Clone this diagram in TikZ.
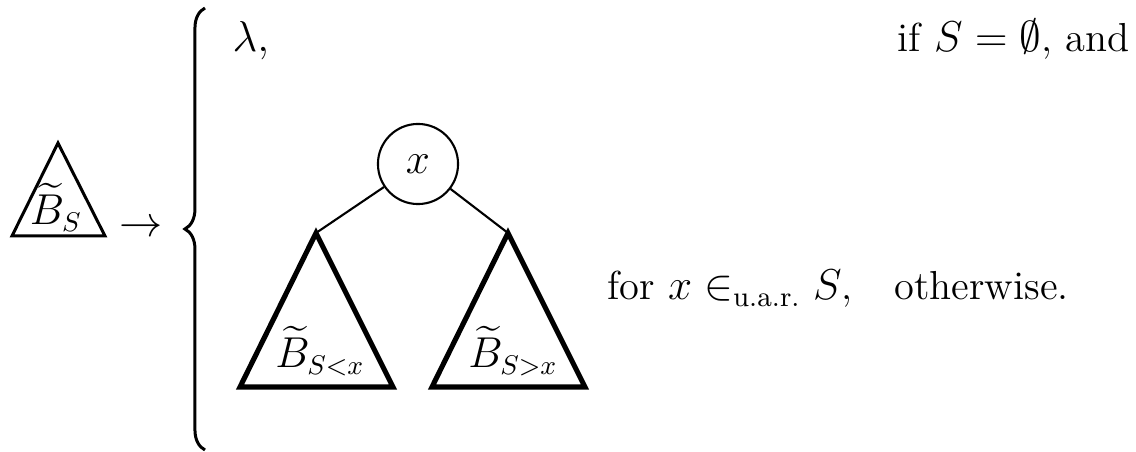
\documentclass[tikz,border=0pt]{standalone}
\usepackage{amsmath}
\usetikzlibrary{decorations.pathreplacing}
\begin{document}
\begin{tikzpicture}[x=0.33333pt,y=-0.33333pt,
  txt/.style={font=\fontsize{13.5}{16}\selectfont, inner sep=0pt},
  smalltri/.style={line width=1pt, line join=miter},
  subtri/.style={line width=1.7pt, line join=miter},
  edge/.style={line width=0.7pt},
  root/.style={circle, draw, line width=0.7pt, minimum size=26.7pt, inner sep=0pt, font=\fontsize{13.5}{16}\selectfont},
  bigbrace/.style={decorate, decoration={brace, amplitude=6.7pt}, line width=1pt}]
\useasboundingbox (0,0) rectangle (1136,452);
% left small triangle
\coordinate (Ta) at (58,143);
\coordinate (Tl) at (12,236);
\coordinate (Tr) at (105,236);
\draw[smalltri] (Ta) -- (Tl) -- (Tr) -- cycle;
\node[txt, anchor=base] (BS) at (56,225) {$\widetilde{B}_S$};
\node[txt] (arr) at (141,229) {$\rightarrow$};
% brace
\coordinate (brb) at (205,450);
\coordinate (brt) at (205,8);
\draw[bigbrace] (brb) -- (brt);
% first case
\node[txt, anchor=base west] (lam) at (232,52) {$\lambda,$};
\node[txt, anchor=base east] (c1) at (1130,52) {if $S=\emptyset$, and};
% tree
\node[root] (x) at (418,164) {$x$};
\coordinate (La) at (316,233);
\coordinate (Ll) at (240,387);
\coordinate (Lr) at (393,387);
\coordinate (Ra) at (508,233);
\coordinate (Rl) at (432,387);
\coordinate (Rr) at (585,387);
\draw[edge] (x) -- (La);
\draw[edge] (x) -- (Ra);
\draw[subtri] (La) -- (Ll) -- (Lr) -- cycle;
\draw[subtri] (Ra) -- (Rl) -- (Rr) -- cycle;
\node[txt, anchor=base] (BL) at (320,368) {$\widetilde{B}_{S<x}$};
\node[txt, anchor=base] (BR) at (513,368) {$\widetilde{B}_{S>x}$};
% second case
\node[txt, anchor=base west] (c2) at (607,300) {for $x\in_{\text{u.a.r.}} S$,\hspace{14pt}otherwise.};
\end{tikzpicture}
\end{document}
